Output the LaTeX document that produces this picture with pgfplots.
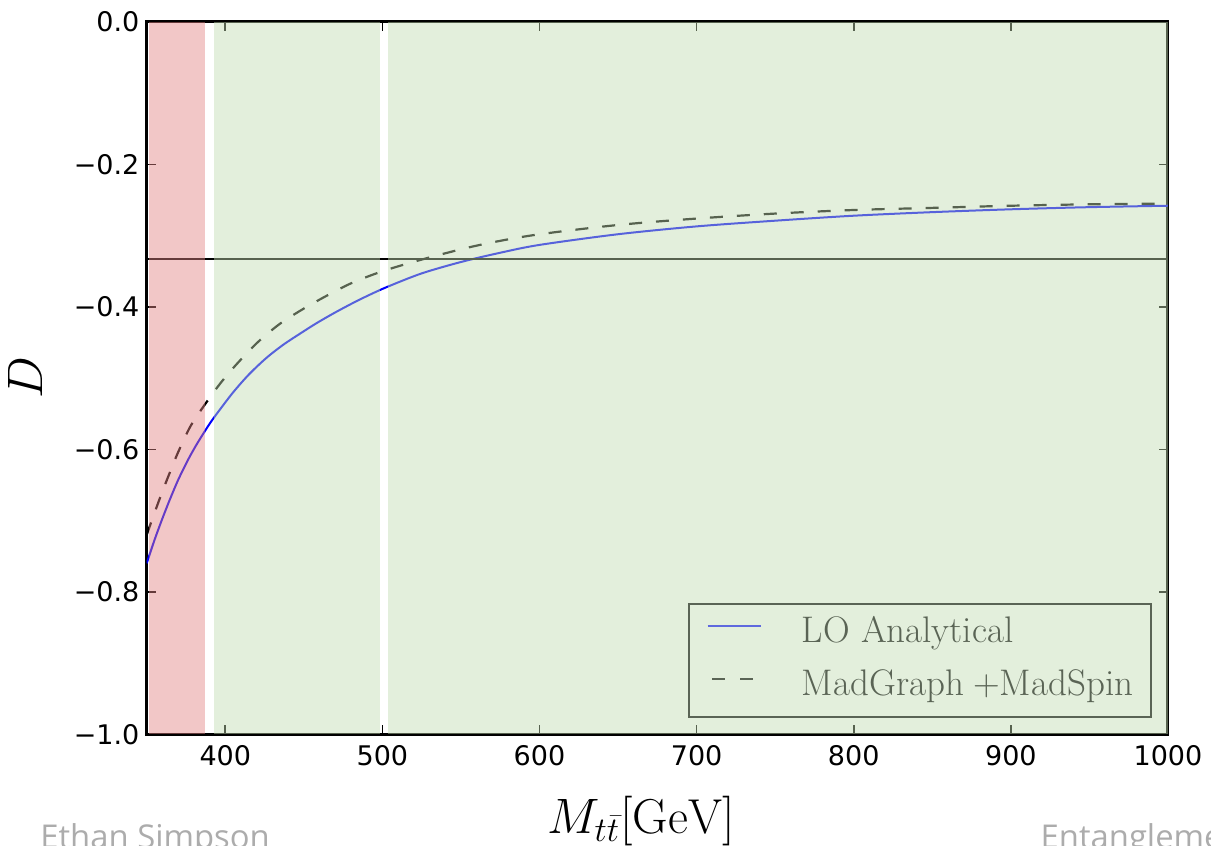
\documentclass[border=0pt]{standalone}
\usepackage{fontspec}
\usepackage{pgfplots}
\pgfplotsset{compat=1.18}
\usepackage{pgfplotstable}

\newfontfamily\dejavu{DejaVu Sans}
\newfontfamily\footfont{Open Sans}

\definecolor{ovgreen}{RGB}{193,219,177}
\definecolor{ovred}{RGB}{226,131,131}
\definecolor{leggreen}{RGB}{227,239,220}
\definecolor{leggray}{RGB}{90,100,85}
\definecolor{legblue}{RGB}{95,105,222}
\definecolor{footgray}{RGB}{172,172,172}

% LO analytical curve
\pgfplotstableread{
M D
350 -0.760
355 -0.727
360 -0.697
365 -0.669
370 -0.643
376 -0.616
381 -0.596
386 -0.578
391 -0.561
397 -0.543
405 -0.520
415 -0.495
426 -0.472
437 -0.453
448 -0.437
458 -0.423
469 -0.409
480 -0.396
490 -0.385
503 -0.372
525 -0.353
550 -0.337
575 -0.324
600 -0.313
650 -0.298
700 -0.287
750 -0.279
800 -0.272
850 -0.267
900 -0.263
950 -0.260
1000 -0.258
}\lotable

% MadGraph + MadSpin
\pgfplotstableread{
M D
350 -0.720
355 -0.689
360 -0.659
365 -0.631
370 -0.604
378 -0.567
388 -0.534
397 -0.507
407 -0.481
420 -0.451
434 -0.425
448 -0.405
464 -0.385
480 -0.367
500 -0.350
526 -0.333
560 -0.314
597 -0.299
650 -0.285
700 -0.276
750 -0.269
800 -0.264
850 -0.261
900 -0.258
950 -0.256
1000 -0.255
}\mgtable

\begin{document}
\begin{tikzpicture}
\path[use as bounding box, clip] (-73.35pt,-55.5pt) rectangle (532pt,367pt);
\begin{axis}[
    at={(0,0)}, anchor=south west,
    scale only axis,
    width=510.5pt, height=356pt,
    xmin=350, xmax=1000,
    ymin=-1, ymax=0,
    axis line style={line width=1.5pt, black},
    tick align=inside,
    xtick pos=both, ytick pos=both,
    major tick length=4.5pt,
    tick style={line width=0.8pt, black},
    xtick={400,500,600,700,800,900,1000},
    xticklabels={400,500,600,700,800,900,1000},
    ytick={-1,-0.8,-0.6,-0.4,-0.2,0},
    yticklabels={−1.0,−0.8,−0.6,−0.4,−0.2,0.0},
    xticklabel style={font=\dejavu\fontsize{13.5}{16}\selectfont, inner sep=0pt, yshift=-5.5pt},
    yticklabel style={font=\dejavu\fontsize{13.5}{16}\selectfont, inner sep=0pt, xshift=-3.5pt},
    xlabel={$M_{t\bar{t}}[\mathrm{GeV}]$},
    xlabel style={at={(axis description cs:0.484,0)}, anchor=base, yshift=-49.5pt,
        font=\fontsize{24.5}{28}\selectfont},
    ylabel={$D$},
    ylabel style={at={(axis description cs:-0.1192,0.5)}, anchor=center,
        font=\fontsize{23}{26}\selectfont},
    legend image code/.code={\path (0pt,0pt); \draw[#1] (0pt,4pt) -- (26.5pt,4pt);},
    legend cell align=left,
    legend style={at={(0.9846,0.0225)}, anchor=south east,
        draw=leggray, line width=1pt, fill=leggreen, text=leggray,
        font=\fontsize{18.5}{22}\selectfont,
        inner xsep=9pt, inner ysep=7pt, row sep=10.5pt, column sep=20pt,
        nodes={inner sep=0pt, text height=12pt, text depth=4pt}},
]
\addplot[forget plot, blue, line width=1pt, smooth] table {\lotable};
\addplot[forget plot, black, line width=1.1pt, smooth, dash pattern=on 6.5pt off 7pt] table {\mgtable};
\addplot[forget plot, black, line width=1pt] coordinates {(350,-0.33333) (1000,-0.33333)};

% shaded regions, drawn over the curves
\addplot[forget plot, draw=none, fill=ovred, fill opacity=0.45]
    coordinates {(351.5,-1) (387.3,-1) (387.3,0) (351.5,0)} -- cycle;
\addplot[forget plot, draw=none, fill=ovgreen, fill opacity=0.45]
    coordinates {(393,-1) (498.5,-1) (498.5,0) (393,0)} -- cycle;
\addplot[forget plot, draw=none, fill=ovgreen, fill opacity=0.45]
    coordinates {(503.5,-1) (1000,-1) (1000,0) (503.5,0)} -- cycle;

\addlegendimage{line width=1pt, legblue}
\addlegendentry{LO Analytical}
\addlegendimage{line width=1.1pt, leggray, dash pattern=on 6.5pt off 7.5pt, dash phase=11.7pt}
\addlegendentry{MadGraph\hspace{0.25em}+MadSpin}
\end{axis}
\node[anchor=base west, inner sep=0pt, text=footgray, font=\footfont\fontsize{16.4}{20}\selectfont]
    at (-53.35pt,-57.35pt) {Ethan Simpson};
\node[anchor=base west, inner sep=0pt, text=footgray, font=\footfont\fontsize{16.4}{20}\selectfont]
    at (446.65pt,-57.35pt) {Entanglement};
\end{tikzpicture}
\end{document}
